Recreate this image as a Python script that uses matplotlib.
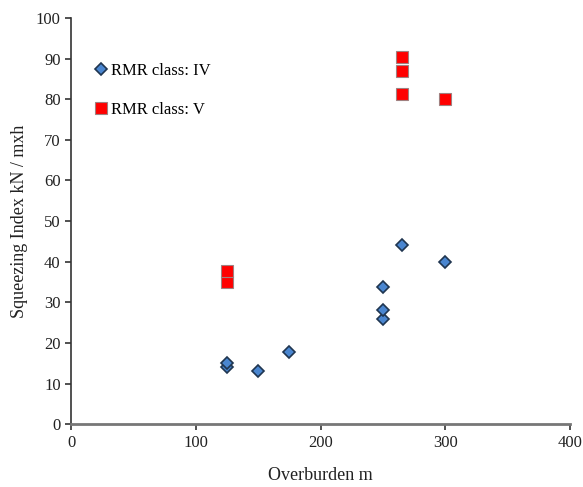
import matplotlib.pyplot as plt

plt.rcParams['font.family'] = ['Liberation Serif', 'DejaVu Serif']

# RMR class IV
x_iv = [125, 125, 150, 175, 250, 250, 250, 265, 300]
y_iv = [14, 15, 13, 17.7, 26, 28.2, 33.7, 44, 40]
# RMR class V
x_v = [125, 125, 265, 265, 265, 300]
y_v = [35, 37.7, 81.2, 87, 90.3, 80]

fig, ax = plt.subplots(figsize=(5.83, 4.87), dpi=100)
ax.plot(x_iv, y_iv, "D", ms=6.5, mfc="#4a86d0", mec="#1f3550", mew=1.2,
        ls="none", label="RMR class: IV", zorder=3)
ax.plot(x_v, y_v, "s", ms=9, mfc="#ff0000", mec="#a08080", mew=0.8,
        ls="none", label="RMR class: V", zorder=3)

ax.set_xlim(0, 400)
ax.set_ylim(0, 100)
ax.set_xticks(range(0, 401, 100))
ax.set_yticks(range(0, 101, 10))
ax.tick_params(direction="out", length=4, width=1.2, labelsize=12,
               colors="#333333", labelcolor="#222222")
for s in ["top", "right"]:
    ax.spines[s].set_visible(False)
ax.spines["left"].set_color("#333333")
ax.spines["left"].set_linewidth(1.2)
ax.spines["bottom"].set_color("#777777")
ax.spines["bottom"].set_linewidth(2.0)

ax.set_xlabel("Overburden m", fontsize=13, labelpad=12, color="#222222")
ax.set_ylabel("Squeezing Index kN / mxh", fontsize=13, labelpad=6, color="#222222")

ax.legend(loc="upper left", bbox_to_anchor=(0.03, 0.905), frameon=False,
          fontsize=12, handletextpad=0.1, labelspacing=1.35, handlelength=1.0,
          borderaxespad=0)

plt.subplots_adjust(left=0.122, right=0.978, top=0.963, bottom=0.129)
plt.savefig("out.png")
